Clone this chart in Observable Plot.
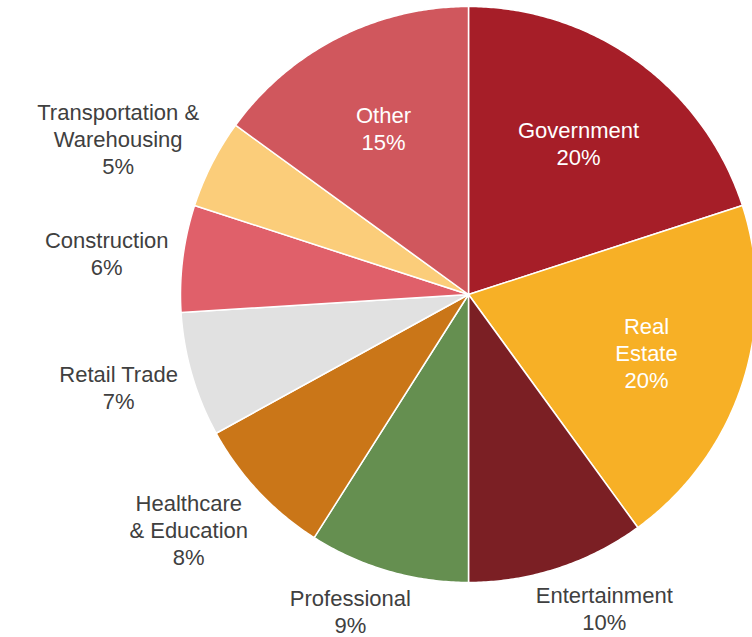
<!DOCTYPE html>
<html><head><meta charset="utf-8">
<script src="https://cdn.jsdelivr.net/npm/d3@7"></script>
<script src="https://cdn.jsdelivr.net/npm/@observablehq/plot@0.6"></script>
<style>body{margin:0;background:#fff;} #chart svg{display:block;}</style>
</head><body><div id="chart"></div>
<script>
// ---- data ----
const sectors = ["Government","Real Estate","Entertainment","Professional","Healthcare & Education","Retail Trade","Construction","Transportation & Warehousing","Other"];
const shares = [20,20,10,9,8,7,6,5,15];
const labelLines = ["Government","Real\nEstate","Entertainment","Professional","Healthcare\n& Education","Retail Trade","Construction","Transportation &\nWarehousing","Other"];
const colors = ["#A61E28","#F7B026","#7B1F24","#658F50","#CA7618","#E1E1E1","#E0606A","#FBCD7A","#D0575D"];

// ---- layout ----
const W = 752, H = 637, R = 288, CX = 468, CY = 294;
const xDomain = [-CX / R, (W - CX) / R];
const yDomain = [-(H - CY) / R, CY / R];
const FS = 22, LH = 27;
const FONT = "'Liberation Sans', Arial, Helvetica, sans-serif";

const arcs = d3.pie().sort(null).value(d => d)(shares);

const wedges = [];
arcs.forEach((p, i) => {
  const name = sectors[i];
  wedges.push({name, x: 0, y: 0});
  const n = Math.max(2, Math.ceil((p.endAngle - p.startAngle) / (Math.PI / 360)));
  for (let k = 0; k <= n; k++) {
    const a = p.startAngle + (p.endAngle - p.startAngle) * k / n;
    wedges.push({name, x: Math.sin(a), y: Math.cos(a)});
  }
  wedges.push({name, x: 0, y: 0});
});

const ctx = document.createElement("canvas").getContext("2d");
ctx.font = `${FS}px ${FONT}`;
const labels = arcs.map((p, i) => {
  const mid = (p.startAngle + p.endAngle) / 2;
  const text = labelLines[i] + "\n" + shares[i] + "%";
  const lines = text.split("\n");
  const inside = shares[i] >= 15;
  const h = lines.length * LH;
  const s = Math.sin(mid), c = Math.cos(mid);
  let x, y;
  if (inside) { x = 0.65 * s; y = 0.65 * c; }
  else {
    const w = d3.max(lines, l => ctx.measureText(l).width);
    x = 1.05 * s + (w / 2) * Math.max(-1, Math.min(1, 2 * s)) / R;
    y = 1.05 * c + (h / 2) * c / R;
    y = Math.max(y, yDomain[0] + (h / 2) / R);
  }
  return {text, x, y, inside};
});

const chart = Plot.plot({
  width: W, height: H, margin: 0,
  x: {domain: xDomain, axis: null},
  y: {domain: yDomain, axis: null},
  color: {domain: sectors, range: colors},
  style: {background: "#fff", fontFamily: FONT},
  marks: [
    Plot.line(wedges, {x: "x", y: "y", z: "name", fill: "name", stroke: "#fff", strokeWidth: 1.5, strokeLinejoin: "round"}),
    Plot.text(labels.filter(d => d.inside), {x: "x", y: "y", text: "text", fill: "#fff", fontSize: FS, lineHeight: LH / FS, lineAnchor: "middle", textAnchor: "middle"}),
    Plot.text(labels.filter(d => !d.inside), {x: "x", y: "y", text: "text", fill: "#404040", fontSize: FS, lineHeight: LH / FS, lineAnchor: "middle", textAnchor: "middle"})
  ]
});
document.getElementById("chart").appendChild(chart);
</script>
</body></html>
